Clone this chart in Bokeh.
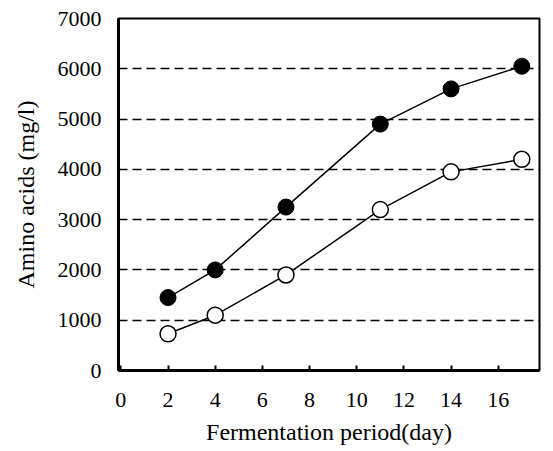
from bokeh.plotting import figure
from bokeh.models import Range1d, FixedTicker, ColumnDataSource
from bokeh.embed import file_html
from bokeh.resources import INLINE

days = [2, 4, 7, 11, 14, 17]
filled_values = [1450, 2000, 3250, 4900, 5600, 6050]
open_values = [730, 1100, 1900, 3200, 3950, 4200]
x_ticks = [0, 2, 4, 6, 8, 10, 12, 14, 16]
y_ticks = [0, 1000, 2000, 3000, 4000, 5000, 6000, 7000]
grid_ticks = [1000, 2000, 3000, 4000, 5000, 6000]

FONT = "Liberation Serif"

p = figure(width=542, height=447, output_backend="svg", toolbar_location=None,
           x_range=Range1d(-0.1, 17.75), y_range=Range1d(0, 7000),
           min_border_left=118, min_border_right=3, min_border_top=18, min_border_bottom=77)
p.background_fill_color = "white"
p.border_fill_color = "white"
p.outline_line_color = "black"
p.outline_line_width = 2

p.xaxis.ticker = FixedTicker(ticks=x_ticks)
p.yaxis.ticker = FixedTicker(ticks=y_ticks)
p.xgrid.visible = False
p.ygrid.ticker = FixedTicker(ticks=grid_ticks)
p.ygrid.grid_line_color = "black"
p.ygrid.grid_line_dash = "9 5"
p.ygrid.grid_line_width = 1.3

for ax in (p.xaxis, p.yaxis):
    ax.axis_line_width = 3
    ax.axis_line_color = "black"
    ax.major_label_text_font = FONT
    ax.major_label_text_font_size = "22px"
    ax.major_label_text_color = "black"
    ax.axis_label_text_font = FONT
    ax.axis_label_text_font_size = "24px"
    ax.axis_label_text_font_style = "normal"
    ax.axis_label_text_color = "black"
    ax.minor_tick_line_color = None

p.xaxis.major_tick_in = 5
p.xaxis.major_tick_out = 0
p.xaxis.major_tick_line_width = 2
p.xaxis.major_label_standoff = 22
p.xaxis.axis_label = "Fermentation period(day)"
p.xaxis.axis_label_standoff = 9

p.yaxis.major_tick_in = 0
p.yaxis.major_tick_out = 0
p.yaxis.major_label_standoff = 17
p.yaxis.axis_label = "Amino acids (mg/l)"
p.yaxis.axis_label_standoff = 16

src = ColumnDataSource(dict(x=days, f=filled_values, o=open_values))
p.line("x", "f", source=src, line_color="black", line_width=1.5)
p.line("x", "o", source=src, line_color="black", line_width=1.5)
p.scatter("x", "f", source=src, size=16, marker="circle", fill_color="black", line_color="black")
p.scatter("x", "o", source=src, size=16, marker="circle", fill_color="white", line_color="black", line_width=1.5)

open("out.html", "w").write(file_html(p, INLINE))
